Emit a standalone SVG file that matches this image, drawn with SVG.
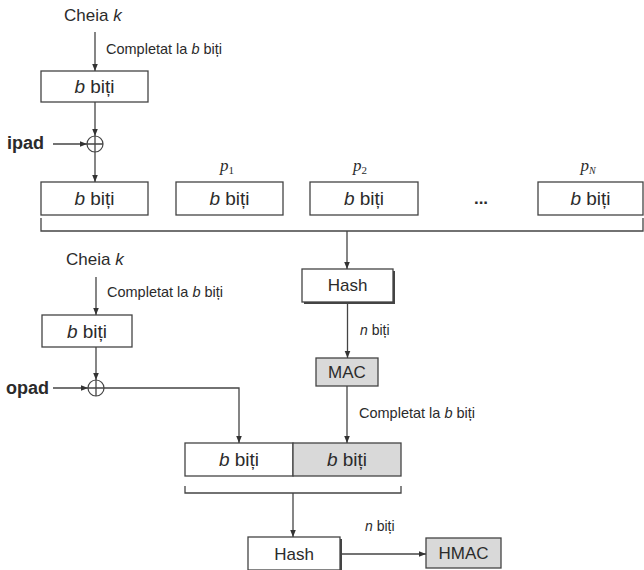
<svg xmlns="http://www.w3.org/2000/svg" width="644" height="570" viewBox="0 0 644 570">
<defs>
<marker id="ah" viewBox="0 0 10 10" refX="10" refY="5" markerWidth="7" markerHeight="7" orient="auto" markerUnits="userSpaceOnUse">
<path d="M0,1 L10,5 L0,9 Z" fill="#333"/>
</marker>
</defs>
<style>
text{font-family:"Liberation Sans",Arial,sans-serif;fill:#2b2b2b}
.box{fill:#fff;stroke:#444;stroke-width:1.3}
.gray{fill:#d9d9d9;stroke:#444;stroke-width:1.3}
.shadow{fill:#444}
.t{font-size:17px;text-anchor:middle}
.bt{font-size:19px;text-anchor:middle}
.s{font-size:14.5px}
.b{font-weight:bold;font-size:18px}
.p{font-family:"Liberation Serif","Times New Roman",serif;font-style:italic;font-size:17px;text-anchor:middle}
.ln{fill:none;stroke:#444;stroke-width:1.3}
.arr{fill:none;stroke:#444;stroke-width:1.3;marker-end:url(#ah)}
.xor{fill:#fff;stroke:#444;stroke-width:1.2}
</style>
<rect width="644" height="570" fill="#fff"/>

<g id="labels">
<text x="64" y="21" style="font-size:17px">Cheia <tspan font-style="italic">k</tspan></text>
<text x="106" y="54" class="s">Completat la <tspan font-style="italic">b</tspan> biți</text>
<text x="7" y="149" class="b">ipad</text>
<text x="66" y="265" style="font-size:17px">Cheia <tspan font-style="italic">k</tspan></text>
<text x="107" y="297" class="s">Completat la <tspan font-style="italic">b</tspan> biți</text>
<text x="6" y="394" class="b">opad</text>
<text x="360" y="335" class="s" style="font-size:14px"><tspan font-style="italic">n</tspan> biți</text>
<text x="359" y="418" class="s">Completat la <tspan font-style="italic">b</tspan> biți</text>
<text x="365" y="531" class="s" style="font-size:14px"><tspan font-style="italic">n</tspan> biți</text>
<text x="227" y="171" class="p">p<tspan font-size="11" font-style="normal" dy="3">1</tspan></text>
<text x="360" y="171" class="p">p<tspan font-size="11" font-style="normal" dy="3">2</tspan></text>
<text x="588" y="171" class="p">p<tspan font-size="10" dy="3">N</tspan></text>
<text x="481" y="204" style="font-size:17px;font-weight:bold;text-anchor:middle">...</text>
</g>

<g id="key1">
<rect class="box" x="41" y="71" width="107" height="31"/>
<text class="bt" x="94.5" y="93"><tspan font-style="italic">b</tspan> biți</text>
</g>
<g id="xor1">
<circle class="xor" cx="95" cy="144" r="8"/>
<path class="ln" d="M87,144 H103 M95,136 V152"/>
</g>
<g id="row0">
<rect class="box" x="41" y="182" width="107" height="33"/>
<text class="bt" x="94.5" y="205"><tspan font-style="italic">b</tspan> biți</text>
</g>
<g id="row1">
<rect class="box" x="176" y="182" width="107" height="33"/>
<text class="bt" x="229.5" y="205"><tspan font-style="italic">b</tspan> biți</text>
</g>
<g id="row2">
<rect class="box" x="310" y="182" width="108" height="33"/>
<text class="bt" x="364" y="205"><tspan font-style="italic">b</tspan> biți</text>
</g>
<g id="rowN">
<rect class="box" x="538" y="182" width="105" height="33"/>
<text class="bt" x="590.5" y="205"><tspan font-style="italic">b</tspan> biți</text>
</g>

<g id="hash1">
<rect class="shadow" x="304" y="271" width="91" height="33"/>
<rect class="box" x="302" y="269" width="91" height="33"/>
<text class="t" x="347.5" y="291">Hash</text>
</g>
<g id="mac">
<rect class="gray" x="316" y="358" width="62" height="28"/>
<text class="t" x="347" y="378">MAC</text>
</g>
<g id="key2">
<rect class="box" x="42" y="315" width="90" height="32"/>
<text class="bt" x="87" y="338"><tspan font-style="italic">b</tspan> biți</text>
</g>
<g id="xor2">
<circle class="xor" cx="96" cy="388" r="8"/>
<path class="ln" d="M88,388 H104 M96,380 V396"/>
</g>
<g id="concat">
<rect class="box" x="185" y="443" width="108" height="33"/>
<rect class="gray" x="293" y="443" width="108" height="33"/>
<text class="bt" x="239" y="466"><tspan font-style="italic">b</tspan> biți</text>
<text class="bt" x="347" y="466"><tspan font-style="italic">b</tspan> biți</text>
</g>
<g id="hash2">
<rect class="shadow" x="250" y="539" width="92" height="33"/>
<rect class="box" x="248" y="537" width="92" height="33"/>
<text class="t" x="294" y="560">Hash</text>
</g>
<g id="hmac">
<rect class="gray" x="426" y="538" width="75" height="30"/>
<text class="t" x="463.5" y="559">HMAC</text>
</g>

<g id="connectors">
<path class="arr" d="M95,32 V71"/>
<path class="arr" d="M95,102 V136"/>
<path class="arr" d="M53,144 H87"/>
<path class="arr" d="M95,152 V182"/>
<path class="ln" d="M41,218 V231 H643 V218"/>
<path class="arr" d="M347,231 V269"/>
<path class="arr" d="M347.5,302 V358"/>
<path class="arr" d="M96,277 V315"/>
<path class="arr" d="M96,347 V380"/>
<path class="arr" d="M53,388 H88"/>
<path class="arr" d="M104,388 H239 V443"/>
<path class="arr" d="M347,386 V443"/>
<path class="ln" d="M185,486 V493 H401 V486"/>
<path class="arr" d="M293,493 V537"/>
<path class="arr" d="M342,554 H426"/>
</g>
</svg>
